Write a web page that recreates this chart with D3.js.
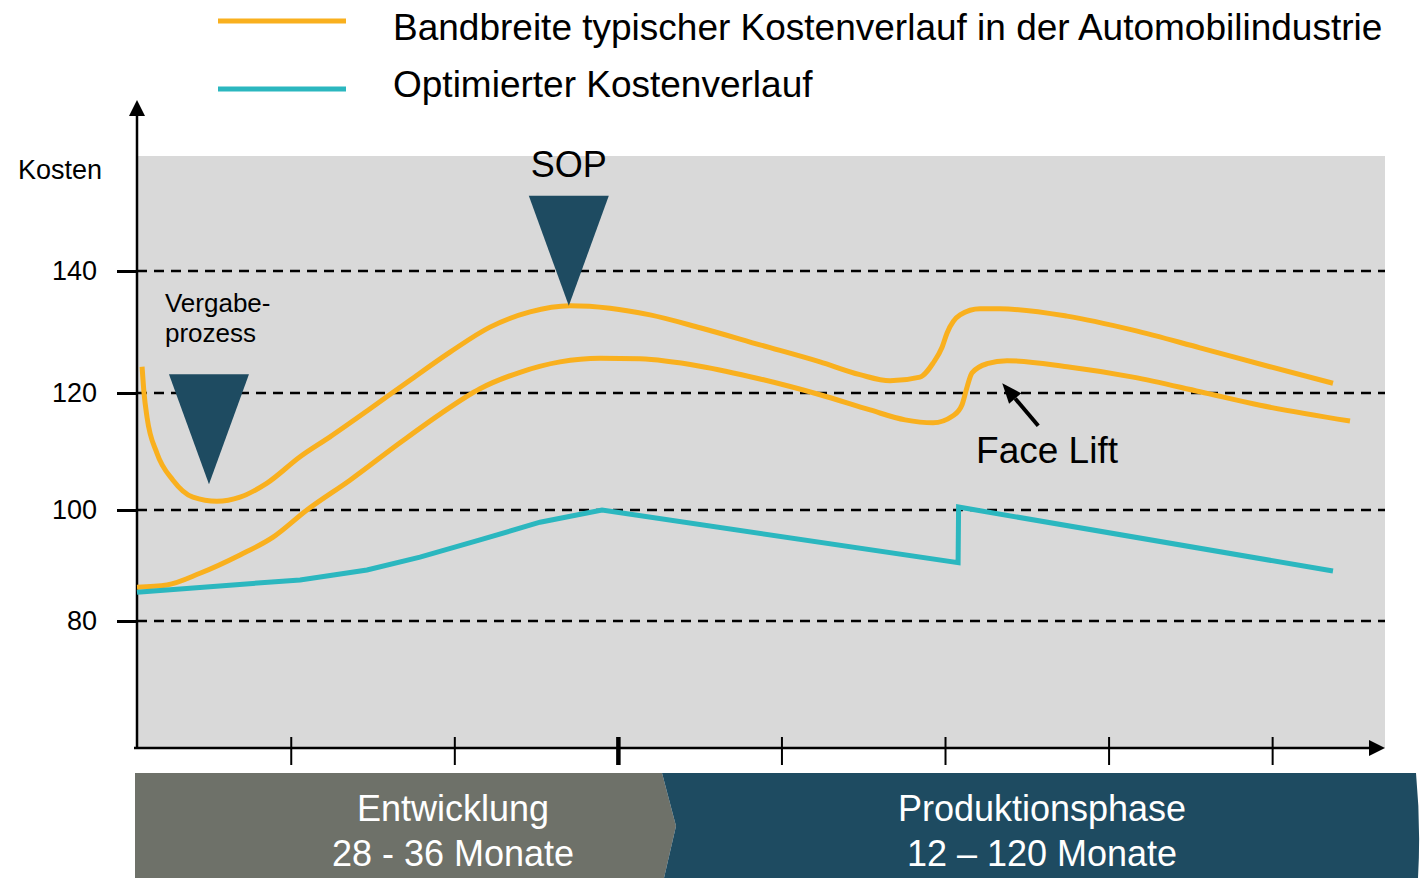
<!DOCTYPE html>
<html>
<head>
<meta charset="utf-8">
<script src="https://cdn.jsdelivr.net/npm/d3@7"></script>
<style>
    body { margin: 0; background: #fff; }
    text { font-family: "Liberation Sans", Arial, sans-serif; }
</style>
</head>
<body>
<div id="cost_plot"></div>
<script>
// x: time in abstract units (axis ticks 1..7), y: Kosten
var yTicks = [80, 100, 120, 140];
var xTicks = [1, 2, 3, 4, 5, 6, 7];
var sopTick = 3;

// upper edge of the typical band
var bandUpper = [
    [0.091, 124.3], [0.103, 120.0], [0.121, 115.9], [0.182, 109.7], [0.280, 105.1],
    [0.402, 102.2], [0.549, 101.5], [0.690, 102.2], [0.855, 104.6], [1.057, 109.1],
    [1.240, 112.5], [1.485, 117.3], [1.729, 122.1], [1.974, 126.7], [2.218, 130.8],
    [2.463, 133.3], [2.707, 134.3], [2.952, 133.9], [3.197, 132.8], [3.502, 130.7],
    [3.869, 127.9], [4.236, 125.1], [4.480, 123.0], [4.664, 122.0], [4.847, 122.6],
    [4.927, 124.9], [4.982, 127.5], [5.012, 129.8], [5.092, 132.8], [5.214, 133.8],
    [5.336, 133.8], [5.746, 132.6], [6.150, 130.3], [6.559, 127.4], [6.987, 124.3],
    [7.372, 121.6]
];

// lower edge of the typical band
var bandLower = [
    [0.060, 86.1], [0.243, 86.5], [0.445, 88.6], [0.690, 91.9], [0.892, 95.1],
    [1.099, 100.0], [1.362, 105.1], [1.668, 111.5], [1.913, 116.4], [2.157, 120.7],
    [2.402, 123.4], [2.646, 125.1], [2.891, 125.7], [3.135, 125.6], [3.502, 124.4],
    [3.869, 122.3], [4.236, 119.7], [4.542, 117.1], [4.756, 115.4], [4.927, 114.9],
    [5.049, 116.1], [5.104, 118.0], [5.135, 121.0], [5.165, 123.3], [5.257, 124.8],
    [5.379, 125.3], [5.746, 124.3], [6.150, 122.6], [6.559, 120.2], [6.926, 117.9],
    [7.476, 115.2]
];

// optimized cost curve
var optimized = [
    [0.060, 85.2], [0.647, 86.5], [1.057, 87.4], [1.466, 89.2], [1.790, 91.5],
    [2.157, 94.6], [2.524, 97.8], [2.903, 100.0], [5.080, 90.5], [5.083, 100.5],
    [7.372, 89.0]
];

var legendLabels = ["Bandbreite typischer Kostenverlauf in der Automobilindustrie", "Optimierter Kostenverlauf"];
var phaseLabels = [["Entwicklung", "28 - 36 Monate"], ["Produktionsphase", "12 \u2013 120 Monate"]];
var markers = [
    { label: ["Vergabe-", "prozess"], t: 0.50, v: 104.4 },
    { label: ["SOP"], t: 2.70, v: 134.3 }
];
var faceLift = { label: "Face Lift", t: 5.19, v: 108.0, from: [5.57, 114.4], to: [5.35, 121.6] };

var orange = "#f9b01e", teal = "#2bb7bf", navy = "#1e4b61", stone = "#6e7169";

var svg = d3.select("#cost_plot")
    .append("svg")
    .attr("width", 1420)
    .attr("height", 878);

var x = d3.scaleLinear()
    .domain([0.06, 7.69])
    .range([137, 1385]);

var y = d3.scaleLinear()
    .domain([57, 80, 100, 120, 140, 160])
    .range([748, 621, 510, 393, 271, 156]);

// plot background
svg.append("rect")
    .attr("x", x(0.06))
    .attr("y", y(160))
    .attr("width", x(7.69) - x(0.06))
    .attr("height", y(57) - y(160))
    .attr("fill", "#d9d9d9");

// dashed grid lines
svg.selectAll(".grid")
    .data(yTicks)
    .enter()
    .append("line")
    .attr("class", "grid")
    .attr("x1", x(0.06))
    .attr("x2", x(7.69))
    .attr("y1", function (d) { return y(d); })
    .attr("y2", function (d) { return y(d); })
    .attr("stroke", "#000")
    .attr("stroke-width", 2.5)
    .attr("stroke-dasharray", "10,7");

// Y axis ticks + labels
var yAxis = svg.append("g")
    .attr("transform", "translate(" + x(0.06) + ",0)")
    .call(d3.axisLeft(y).tickValues(yTicks).tickSize(20).tickPadding(20));
yAxis.select(".domain").remove();
yAxis.selectAll(".tick line").attr("stroke-width", 3);
yAxis.selectAll(".tick text")
    .style("font-size", "27px")
    .attr("fill", "#000");

svg.append("text")
    .attr("x", 18)
    .attr("y", 179)
    .style("font-size", "27px")
    .text("Kosten");

// X axis ticks (no labels)
var xAxis = svg.append("g")
    .attr("transform", "translate(0,737)")
    .call(d3.axisBottom(x).tickValues(xTicks).tickSize(28).tickFormat(""));
xAxis.select(".domain").remove();
xAxis.selectAll(".tick line")
    .attr("stroke-width", function (d) { return d === sopTick ? 4.5 : 2; });

// axis lines with arrow heads
svg.append("line")
    .attr("x1", x(0.06)).attr("x2", x(0.06))
    .attr("y1", 749).attr("y2", 112)
    .attr("stroke", "#000").attr("stroke-width", 2.5);
svg.append("path")
    .attr("d", "M" + (x(0.06) - 8) + ",116L" + (x(0.06) + 8) + ",116L" + x(0.06) + ",100Z")
    .attr("fill", "#000");
svg.append("line")
    .attr("x1", 134).attr("x2", 1372)
    .attr("y1", 748).attr("y2", 748)
    .attr("stroke", "#000").attr("stroke-width", 2.5);
svg.append("path")
    .attr("d", "M1369,740L1369,756L1385,748Z")
    .attr("fill", "#000");

// curves
var smooth = d3.line()
    .x(function (d) { return x(d[0]); })
    .y(function (d) { return y(d[1]); })
    .curve(d3.curveMonotoneX);
var straight = d3.line()
    .x(function (d) { return x(d[0]); })
    .y(function (d) { return y(d[1]); });

[bandUpper, bandLower].forEach(function (series) {
    svg.append("path")
        .datum(series)
        .attr("d", smooth)
        .attr("fill", "none")
        .attr("stroke", orange)
        .attr("stroke-width", 5)
        .attr("stroke-linejoin", "round");
});
svg.append("path")
    .datum(optimized)
    .attr("d", straight)
    .attr("fill", "none")
    .attr("stroke", teal)
    .attr("stroke-width", 5);

// marker triangles + labels
markers.forEach(function (m) {
    var px = x(m.t), py = y(m.v);
    svg.append("path")
        .attr("d", "M" + (px - 40) + "," + (py - 110) + "L" + (px + 40) + "," + (py - 110) + "L" + px + "," + py + "Z")
        .attr("fill", navy);
    if (m.label.length > 1) {
        m.label.forEach(function (l, i) {
            svg.append("text")
                .attr("x", px - 44)
                .attr("y", py - 172 + i * 30)
                .style("font-size", "26px")
                .text(l);
        });
    } else {
        svg.append("text")
            .attr("x", px)
            .attr("y", py - 129)
            .attr("text-anchor", "middle")
            .style("font-size", "36px")
            .text(m.label[0]);
    }
});

// Face Lift arrow
var fx1 = x(faceLift.from[0]), fy1 = y(faceLift.from[1]);
var fx2 = x(faceLift.to[0]), fy2 = y(faceLift.to[1]);
var ang = Math.atan2(fy2 - fy1, fx2 - fx1);
var hl = 20, hw = 8;
var bx = fx2 - hl * Math.cos(ang), by = fy2 - hl * Math.sin(ang);
svg.append("line")
    .attr("x1", fx1).attr("y1", fy1)
    .attr("x2", bx).attr("y2", by)
    .attr("stroke", "#000").attr("stroke-width", 4);
svg.append("path")
    .attr("d", "M" + fx2 + "," + fy2 +
        "L" + (bx + hw * Math.sin(ang)) + "," + (by - hw * Math.cos(ang)) +
        "L" + (bx - hw * Math.sin(ang)) + "," + (by + hw * Math.cos(ang)) + "Z")
    .attr("fill", "#000");
svg.append("text")
    .attr("x", x(faceLift.t))
    .attr("y", y(faceLift.v))
    .style("font-size", "37px")
    .text(faceLift.label);

// legend
[orange, teal].forEach(function (c, i) {
    var ly = i === 0 ? 21 : 89;
    svg.append("line")
        .attr("x1", 218).attr("x2", 346)
        .attr("y1", ly).attr("y2", ly)
        .attr("stroke", c).attr("stroke-width", 5);
    svg.append("text")
        .attr("x", 393)
        .attr("y", i === 0 ? 40 : 97)
        .style("font-size", "37px")
        .text(legendLabels[i]);
});

// phase bands
svg.append("path")
    .attr("d", "M135,773L662,773L676,826L664,878L135,878Z")
    .attr("fill", stone);
svg.append("path")
    .attr("d", "M662,773L1416,773Q1421,826 1418,878L664,878L676,826Z")
    .attr("fill", navy);
var phaseCenters = [453, 1042];
phaseLabels.forEach(function (lines, i) {
    lines.forEach(function (l, j) {
        svg.append("text")
            .attr("x", phaseCenters[i])
            .attr("y", 821 + j * 45)
            .attr("text-anchor", "middle")
            .attr("fill", "#fff")
            .style("font-size", "36px")
            .text(l);
    });
});
</script>
</body>
</html>
